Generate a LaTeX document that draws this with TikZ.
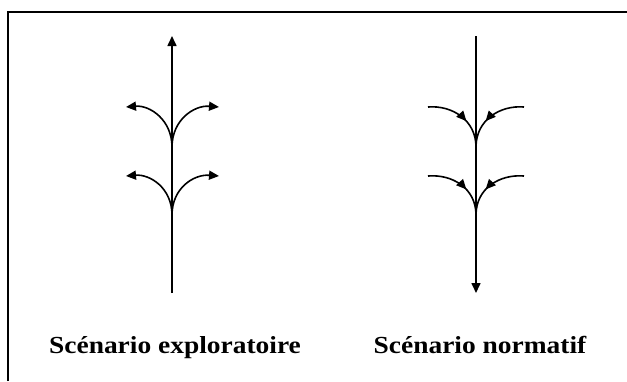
\documentclass[tikz,border=0pt]{standalone}
\usepackage{fontspec}
\setmainfont{Liberation Serif}[FakeStretch=1.12]
\usetikzlibrary{arrows.meta,decorations.markings}

\begin{document}
\begin{tikzpicture}[x=1pt,y=-1pt,line width=1.6pt,
  endtip/.style={-{Triangle[length=10pt,width=9pt]}},
  midtip/.style={postaction={decorate},decoration={markings,
    mark=at position #1 with {\arrow{Triangle[length=10pt,width=9pt]}}}},
  scenlabel/.style={font=\fontsize{24.5}{29}\selectfont\bfseries,anchor=base}]
\useasboundingbox (0,0) rectangle (627,381);
\draw[line width=2pt] (8,381) -- (8,12) -- (627,12);
% exploratoire
\coordinate (lbot) at (172,293);
\coordinate (ltop) at (172,36);
\coordinate (lj1) at (172,147);
\coordinate (lj2) at (172,215);
\coordinate (lul) at (126,107);
\coordinate (lur) at (219,107);
\coordinate (lll) at (126,176);
\coordinate (llr) at (219,176);
\draw[endtip] (lbot) -- (ltop);
\draw[endtip] (lj1) .. controls (172,120) and (150,105) .. (lul);
\draw[endtip] (lj1) .. controls (172,120) and (194,105) .. (lur);
\draw[endtip] (lj2) .. controls (172,188) and (150,174) .. (lll);
\draw[endtip] (lj2) .. controls (172,188) and (194,174) .. (llr);
% normatif
\coordinate (rtop) at (476,36);
\coordinate (rbot) at (476,293);
\coordinate (rj1) at (476,147);
\coordinate (rj2) at (476,215);
\coordinate (rul) at (428,107);
\coordinate (rur) at (524,107);
\coordinate (rll) at (428,176);
\coordinate (rlr) at (524,176);
\draw[endtip] (rtop) -- (rbot);
\draw[midtip=0.6] (rul) .. controls (452,105) and (476,120) .. (rj1);
\draw[midtip=0.6] (rur) .. controls (500,105) and (476,120) .. (rj1);
\draw[midtip=0.6] (rll) .. controls (452,174) and (476,188) .. (rj2);
\draw[midtip=0.6] (rlr) .. controls (500,174) and (476,188) .. (rj2);
\node[scenlabel] (expl) at (175,353) {Scénario exploratoire};
\node[scenlabel] (norm) at (480,353) {Scénario normatif};
\end{tikzpicture}
\end{document}
